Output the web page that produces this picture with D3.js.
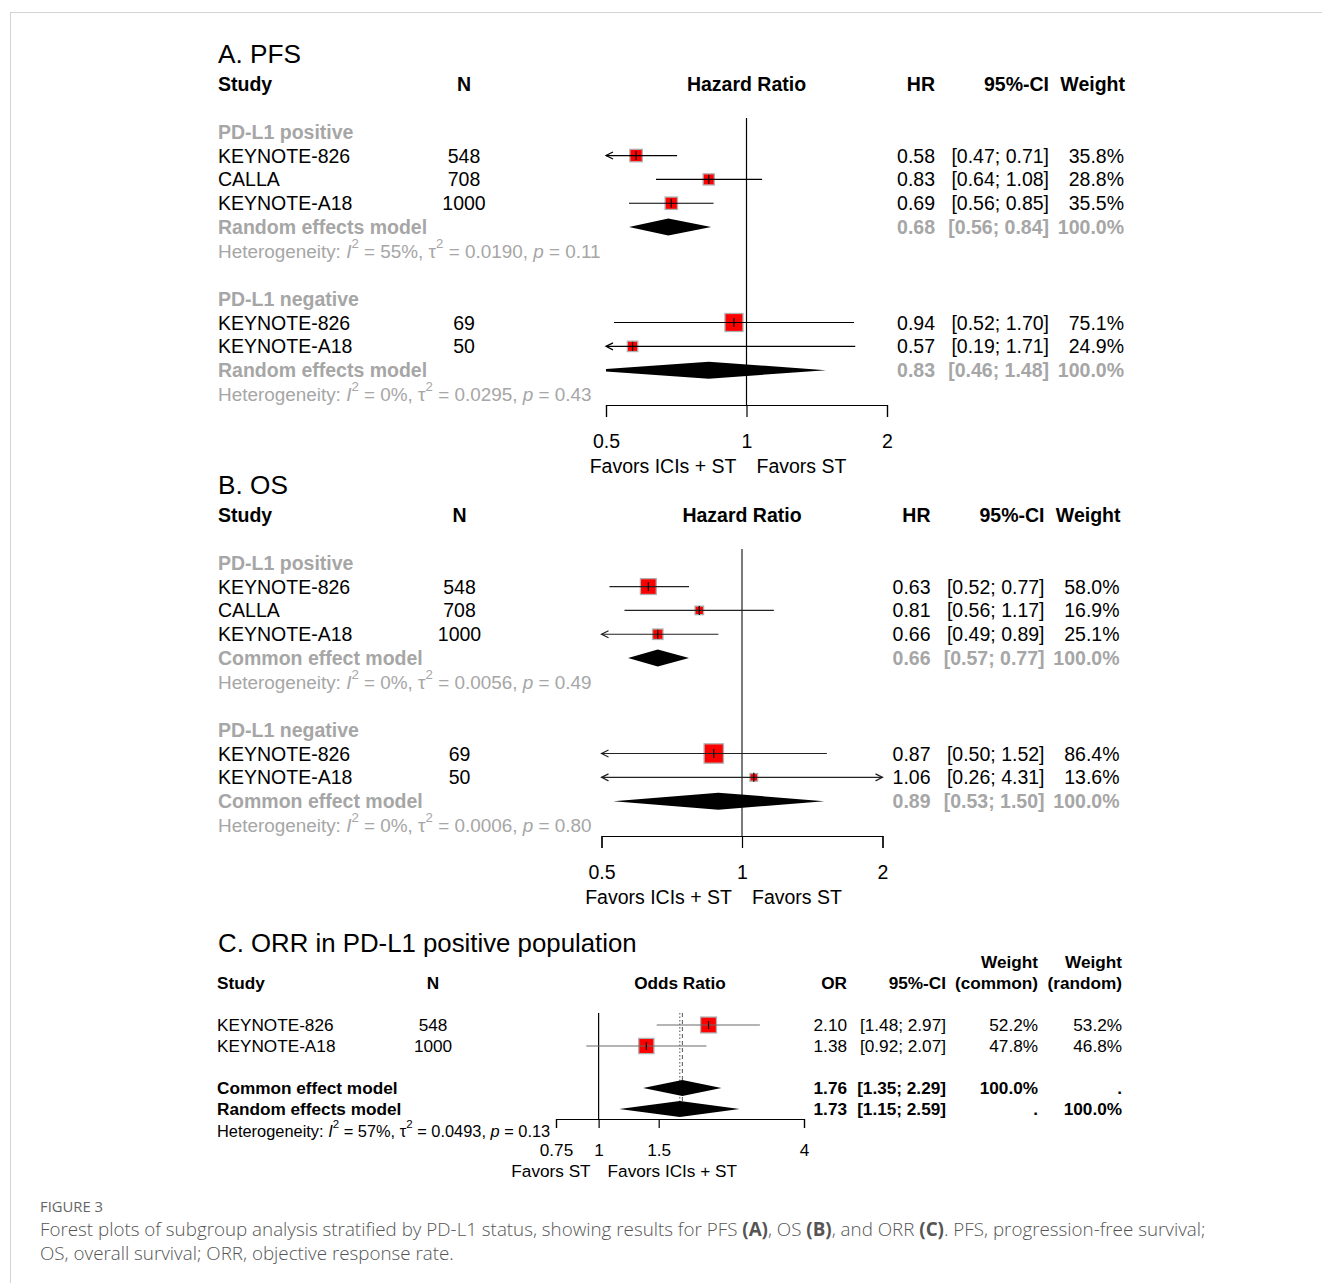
<!DOCTYPE html>
<html><head><meta charset="utf-8">
<script src="https://cdn.jsdelivr.net/npm/d3@7"></script>
<style>body{margin:0;background:#fff} svg{display:block}</style>
</head><body><svg id="c" width="1322" height="1283"></svg>
<script>
// ---------------- data ----------------
const studiesPos = ["KEYNOTE-826", "CALLA", "KEYNOTE-A18"];
const nPos = [548, 708, 1000];
const studiesNeg = ["KEYNOTE-826", "KEYNOTE-A18"];
const nNeg = [69, 50];

const pfsPosHR = [0.58, 0.83, 0.69];
const pfsPosLo = [0.47, 0.64, 0.56];
const pfsPosHi = [0.71, 1.08, 0.85];
const pfsPosW = [35.8, 28.8, 35.5];
const pfsPosPool = [0.68, 0.56, 0.84];
const pfsNegHR = [0.94, 0.57];
const pfsNegLo = [0.52, 0.19];
const pfsNegHi = [1.70, 1.71];
const pfsNegW = [75.1, 24.9];
const pfsNegPool = [0.83, 0.46, 1.48];
const pfsHet = [["55%", "0.0190", "0.11"], ["0%", "0.0295", "0.43"]];

const osPosHR = [0.63, 0.81, 0.66];
const osPosLo = [0.52, 0.56, 0.49];
const osPosHi = [0.77, 1.17, 0.89];
const osPosW = [58.0, 16.9, 25.1];
const osPosPool = [0.66, 0.57, 0.77];
const osNegHR = [0.87, 1.06];
const osNegLo = [0.50, 0.26];
const osNegHi = [1.52, 4.31];
const osNegW = [86.4, 13.6];
const osNegPool = [0.89, 0.53, 1.50];
const osHet = [["0%", "0.0056", "0.49"], ["0%", "0.0006", "0.80"]];

const hrTicks = [0.5, 1, 2];

const orrStudies = ["KEYNOTE-826", "KEYNOTE-A18"];
const orrN = [548, 1000];
const orrOR = [2.10, 1.38];
const orrLo = [1.48, 0.92];
const orrHi = [2.97, 2.07];
const orrWCommon = [52.2, 47.8];
const orrWRandom = [53.2, 46.8];
const orrCommon = [1.76, 1.35, 2.29];
const orrRandom = [1.73, 1.15, 2.59];
const orrHet = ["57%", "0.0493", "0.13"];
const orrTicks = [0.75, 1, 1.5, 4];

// ---------------- drawing ----------------
const svg = d3.select("#c");
const FONT = "'Liberation Sans', Arial, sans-serif";
const GRAY = "#a6a6a6";
const f2 = d3.format(".2f");
const f1 = d3.format(".1f");
const ciTxt = (lo, hi) => "[" + f2(lo) + "; " + f2(hi) + "]";

// frame
svg.append("line").attr("x1", 10.5).attr("x2", 10.5).attr("y1", 12).attr("y2", 1283).attr("stroke", "#d4d4d4");
svg.append("line").attr("x1", 10).attr("x2", 1322).attr("y1", 12.5).attr("y2", 12.5).attr("stroke", "#d4d4d4");

function txt(g, x, y, s, o = {}) {
  return g.append("text").attr("x", x).attr("y", y).attr("dominant-baseline", "central")
    .attr("font-family", FONT).attr("font-size", o.size || 19.5)
    .attr("font-weight", o.bold ? "bold" : "normal")
    .attr("text-anchor", o.anchor || "start").attr("fill", o.color || "#000").text(s);
}

function het(g, x, y, vals, color, size) {
  const t = g.append("text").attr("x", x).attr("y", y).attr("dominant-baseline", "central")
    .attr("font-family", FONT).attr("font-size", size).attr("fill", color);
  const up = size * 0.42;
  t.append("tspan").text("Heterogeneity: ");
  t.append("tspan").attr("font-style", "italic").text("I");
  t.append("tspan").attr("font-size", size * 0.7).attr("dy", -up).text("2");
  t.append("tspan").attr("dy", up).text(" = " + vals[0] + ", \u03c4");
  t.append("tspan").attr("font-size", size * 0.7).attr("dy", -up).text("2");
  t.append("tspan").attr("dy", up).text(" = " + vals[1] + ", ");
  t.append("tspan").attr("font-style", "italic").text("p");
  t.append("tspan").text(" = " + vals[2]);
}

let clipId = 0;
function makeClip(x0, x1) {
  const id = "clip" + (clipId++);
  svg.append("clipPath").attr("id", id).append("rect")
    .attr("x", x0).attr("y", 0).attr("width", x1 - x0).attr("height", 1283);
  return "url(#" + id + ")";
}

function ciMark(g, x, y, est, lo, hi, side, color, tickH) {
  const [d0, d1] = x.domain();
  const a = Math.max(lo, d0), b = Math.min(hi, d1);
  g.append("rect").attr("x", x(est) - side / 2).attr("y", y - side / 2)
    .attr("width", side).attr("height", side).attr("fill", "#ff0000")
    .attr("stroke", "#b0b0b0").attr("stroke-width", 1.3);
  g.append("line").attr("x1", x(a)).attr("x2", x(b)).attr("y1", y).attr("y2", y)
    .attr("stroke", color).attr("stroke-width", 1.2);
  g.append("line").attr("x1", x(est)).attr("x2", x(est)).attr("y1", y - tickH).attr("y2", y + tickH)
    .attr("stroke", "#000").attr("stroke-width", 1.2);
  if (lo <= d0) {
    const xa = x(d0);
    g.append("path").attr("d", `M${xa + 7},${y - 3.5}L${xa},${y}L${xa + 7},${y + 3.5}`)
      .attr("fill", "none").attr("stroke", color).attr("stroke-width", 1.2);
  }
  if (hi >= d1) {
    const xb = x(d1);
    g.append("path").attr("d", `M${xb - 7},${y - 3.5}L${xb},${y}L${xb - 7},${y + 3.5}`)
      .attr("fill", "none").attr("stroke", color).attr("stroke-width", 1.2);
  }
}

function diamond(g, x, y, pool, half, clip) {
  const [e, lo, hi] = pool;
  g.append("path").attr("clip-path", clip)
    .attr("d", `M${x(lo)},${y}L${x(e)},${y - half}L${x(hi)},${y}L${x(e)},${y + half}Z`)
    .attr("fill", "#000");
}

function hrPanel(opt) {
  const H = opt.H, dx = opt.dx, step = 23.85;
  const g = svg.append("g");
  const x = d3.scaleLog().domain([hrTicks[0], hrTicks[hrTicks.length - 1]]).range([606 + dx, 887 + dx]);
  const clip = makeClip(x.range()[0], x.range()[1]);
  const cN = 464 + dx, cHR = 935 + dx, cCI = 1049 + dx, cW = 1124 + dx;
  const ry = k => H + k * step;

  txt(g, 218, H - 30, opt.title, { size: 26.2 });
  txt(g, 218, H, "Study", { bold: true });
  txt(g, cN, H, "N", { bold: true, anchor: "middle" });
  txt(g, (x.range()[0] + x.range()[1]) / 2, H, "Hazard Ratio", { bold: true, anchor: "middle" });
  txt(g, cHR, H, "HR", { bold: true, anchor: "end" });
  txt(g, cCI, H, "95%-CI", { bold: true, anchor: "end" });
  txt(g, cW + 1, H, "Weight", { bold: true, anchor: "end" });

  // reference line
  const axisY = H + 321;
  g.append("line").attr("x1", x(1)).attr("x2", x(1)).attr("y1", H + 34).attr("y2", axisY)
    .attr("stroke", opt.refColor).attr("stroke-width", 1.2);

  let k = 2;
  opt.groups.forEach(gr => {
    txt(g, 218, ry(k), gr.label, { bold: true, color: GRAY });
    k++;
    gr.studies.forEach((s, i) => {
      const y = ry(k);
      txt(g, 218, y, s);
      txt(g, cN, y, gr.n[i], { anchor: "middle" });
      ciMark(g, x, y, gr.est[i], gr.lo[i], gr.hi[i], 2.08 * Math.sqrt(gr.w[i]), opt.lineColor, 4.5);
      txt(g, cHR, y, f2(gr.est[i]), { anchor: "end" });
      txt(g, cCI, y, ciTxt(gr.lo[i], gr.hi[i]), { anchor: "end" });
      txt(g, cW, y, f1(gr.w[i]) + "%", { anchor: "end" });
      k++;
    });
    const y = ry(k);
    txt(g, 218, y, opt.modelLabel, { bold: true, color: GRAY });
    diamond(g, x, y, gr.pool, 8.5, clip);
    txt(g, cHR, y, f2(gr.pool[0]), { anchor: "end", bold: true, color: GRAY });
    txt(g, cCI, y, ciTxt(gr.pool[1], gr.pool[2]), { anchor: "end", bold: true, color: GRAY });
    txt(g, cW, y, "100.0%", { anchor: "end", bold: true, color: GRAY });
    k++;
    het(g, 218, ry(k), gr.het, GRAY, 18.9);
    k += 2;
  });

  const ax = g.append("g").attr("transform", `translate(0,${axisY})`)
    .call(d3.axisBottom(x).tickValues(hrTicks).tickFormat(d3.format("")).tickSizeInner(12).tickSizeOuter(12).tickPadding(17));
  ax.selectAll("path,line").attr("stroke", "#000").attr("stroke-width", 1.2);
  ax.selectAll("text").attr("font-family", FONT).attr("font-size", 19.5).attr("fill", "#000");

  txt(g, x(1) - 10, H + 382, "Favors ICIs + ST", { anchor: "end" });
  txt(g, x(1) + 10, H + 382, "Favors ST");
}

hrPanel({
  title: "A. PFS", H: 84, dx: 0, modelLabel: "Random effects model", lineColor: "#000", refColor: "#000",
  groups: [
    { label: "PD-L1 positive", studies: studiesPos, n: nPos, est: pfsPosHR, lo: pfsPosLo, hi: pfsPosHi, w: pfsPosW, pool: pfsPosPool, het: pfsHet[0] },
    { label: "PD-L1 negative", studies: studiesNeg, n: nNeg, est: pfsNegHR, lo: pfsNegLo, hi: pfsNegHi, w: pfsNegW, pool: pfsNegPool, het: pfsHet[1] }
  ]
});
hrPanel({
  title: "B. OS", H: 515, dx: -4.5, modelLabel: "Common effect model", lineColor: "#222", refColor: "#222",
  groups: [
    { label: "PD-L1 positive", studies: studiesPos, n: nPos, est: osPosHR, lo: osPosLo, hi: osPosHi, w: osPosW, pool: osPosPool, het: osHet[0] },
    { label: "PD-L1 negative", studies: studiesNeg, n: nNeg, est: osNegHR, lo: osNegLo, hi: osNegHi, w: osNegW, pool: osNegPool, het: osHet[1] }
  ]
});

// ---------------- Panel C ----------------
(function () {
  const g = svg.append("g");
  const S = 17.2;
  const x = d3.scaleLog().domain([orrTicks[0], orrTicks[orrTicks.length - 1]]).range([556, 804]);
  const clip = makeClip(556, 804);
  const H = 983;
  const cN = 433, cOR = 847, cCI = 946, cWC = 1038, cWR = 1122;
  txt(g, 218, 943, "C. ORR in PD-L1 positive population", { size: 25.8 });
  txt(g, 217, H, "Study", { bold: true, size: S });
  txt(g, cN, H, "N", { bold: true, size: S, anchor: "middle" });
  txt(g, 680, H, "Odds Ratio", { bold: true, size: S, anchor: "middle" });
  txt(g, cOR, H, "OR", { bold: true, size: S, anchor: "end" });
  txt(g, cCI, H, "95%-CI", { bold: true, size: S, anchor: "end" });
  txt(g, cWC, H - 21, "Weight", { bold: true, size: S, anchor: "end" });
  txt(g, cWC, H, "(common)", { bold: true, size: S, anchor: "end" });
  txt(g, cWR, H - 21, "Weight", { bold: true, size: S, anchor: "end" });
  txt(g, cWR, H, "(random)", { bold: true, size: S, anchor: "end" });

  const axisY = 1119;
  g.append("line").attr("x1", x(1)).attr("x2", x(1)).attr("y1", 1013).attr("y2", axisY)
    .attr("stroke", "#000").attr("stroke-width", 1.2);
  g.append("line").attr("x1", x(orrCommon[0])).attr("x2", x(orrCommon[0])).attr("y1", 1013).attr("y2", 1117)
    .attr("stroke", "#555").attr("stroke-width", 1).attr("stroke-dasharray", "4,3");
  g.append("line").attr("x1", x(orrRandom[0])).attr("x2", x(orrRandom[0])).attr("y1", 1013).attr("y2", 1117)
    .attr("stroke", "#555").attr("stroke-width", 1).attr("stroke-dasharray", "1.5,2");

  const rowsY = [1025, 1046];
  orrStudies.forEach((s, i) => {
    const y = rowsY[i];
    txt(g, 217, y, s, { size: S });
    txt(g, cN, y, orrN[i], { size: S, anchor: "middle" });
    ciMark(g, x, y, orrOR[i], orrLo[i], orrHi[i], 2.2 * Math.sqrt(orrWCommon[i]), "#6a6a6a", 4);
    txt(g, cOR, y, f2(orrOR[i]), { size: S, anchor: "end" });
    txt(g, cCI, y, ciTxt(orrLo[i], orrHi[i]), { size: S, anchor: "end" });
    txt(g, cWC, y, f1(orrWCommon[i]) + "%", { size: S, anchor: "end" });
    txt(g, cWR, y, f1(orrWRandom[i]) + "%", { size: S, anchor: "end" });
  });
  const models = [["Common effect model", orrCommon, 1088, "100.0%", "."], ["Random effects model", orrRandom, 1109, ".", "100.0%"]];
  models.forEach(m => {
    const y = m[2];
    txt(g, 217, y, m[0], { size: S, bold: true });
    diamond(g, x, y, m[1], 8, clip);
    txt(g, cOR, y, f2(m[1][0]), { size: S, bold: true, anchor: "end" });
    txt(g, cCI, y, ciTxt(m[1][1], m[1][2]), { size: S, bold: true, anchor: "end" });
    txt(g, cWC, y, m[3], { size: S, bold: true, anchor: "end" });
    txt(g, cWR, y, m[4], { size: S, bold: true, anchor: "end" });
  });
  het(g, 217, 1131, orrHet, "#000", 16.4);

  const ax = g.append("g").attr("transform", `translate(0,${axisY})`)
    .call(d3.axisBottom(x).tickValues(orrTicks).tickFormat(d3.format("")).tickSizeInner(9).tickSizeOuter(9).tickPadding(16));
  ax.selectAll("path,line").attr("stroke", "#000").attr("stroke-width", 1.2);
  ax.selectAll("text").attr("font-family", FONT).attr("font-size", S).attr("fill", "#000");
  txt(g, x(1) - 8, 1171, "Favors ST", { size: S, anchor: "end" });
  txt(g, x(1) + 9, 1171, "Favors ICIs + ST", { size: S });
})();

// ---------------- caption ----------------
const CF = "'Open Sans', 'Noto Sans', sans-serif";
svg.append("text").attr("x", 40).attr("y", 1206).attr("dominant-baseline", "central")
  .attr("font-family", CF).attr("font-size", 14.8).attr("fill", "#666").text("FIGURE 3");
const cap1 = svg.append("text").attr("x", 40).attr("y", 1229).attr("dominant-baseline", "central")
  .attr("font-family", CF).attr("font-size", 18.8).attr("font-weight", 300).attr("fill", "#555");
[["Forest plots of subgroup analysis stratified by PD-L1 status, showing results for PFS ", 0], ["(A)", 1], [", OS ", 0], ["(B)", 1], [", and ORR ", 0], ["(C)", 1], [". PFS, progression-free survival;", 0]]
  .forEach(p => cap1.append("tspan").attr("font-weight", p[1] ? "bold" : 300).text(p[0]));
svg.append("text").attr("x", 40).attr("y", 1253).attr("dominant-baseline", "central")
  .attr("font-family", CF).attr("font-size", 18.8).attr("font-weight", 300).attr("fill", "#555")
  .text("OS, overall survival; ORR, objective response rate.");
</script></body></html>
